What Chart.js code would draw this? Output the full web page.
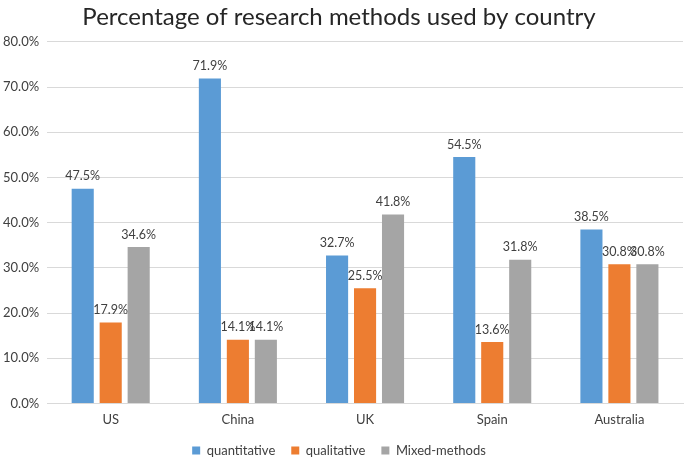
<!DOCTYPE html>
<html>
<head>
<meta charset="utf-8">
<script src="https://cdn.jsdelivr.net/npm/chart.js@4"></script>
<style>
  html, body { margin: 0; padding: 0; background: #fff; }
  #wrap { width: 685px; height: 458px; position: relative; }
</style>
</head>
<body>
<div id="wrap"><canvas id="chart"></canvas></div>
<script>
// --- DATA ---
const countries = ["US", "China", "UK", "Spain", "Australia"];
const quantitative = [47.5, 71.9, 32.7, 54.5, 38.5];
const qualitative = [17.9, 14.1, 25.5, 13.6, 30.8];
const mixedMethods = [34.6, 14.1, 41.8, 31.8, 30.8];
const yTicks = [0, 10, 20, 30, 40, 50, 60, 70, 80];

const fontFamily = "Lato, 'Open Sans', sans-serif";

// Draw value labels above each bar
const valueLabels = {
    id: 'valueLabels',
    afterDatasetsDraw(chart) {
        const ctx = chart.ctx;
        ctx.save();
        ctx.font = "12.5px " + fontFamily;
        ctx.fillStyle = "#404040";
        ctx.textAlign = "center";
        ctx.textBaseline = "bottom";
        chart.data.datasets.forEach((ds, i) => {
            chart.getDatasetMeta(i).data.forEach((bar, j) => {
                ctx.fillText(ds.data[j].toFixed(1) + "%", bar.x, bar.y - 6);
            });
        });
        ctx.restore();
    }
};

new Chart(document.getElementById('chart'), {
    type: 'bar',
    data: {
        labels: countries,
        datasets: [
            { label: 'quantitative', data: quantitative, backgroundColor: '#5B9BD5' },
            { label: 'qualitative', data: qualitative, backgroundColor: '#ED7D31' },
            { label: 'Mixed-methods', data: mixedMethods, backgroundColor: '#A5A5A5' }
        ]
    },
    options: {
        responsive: true,
        maintainAspectRatio: false,
        animation: false,
        categoryPercentage: 0.66,
        barPercentage: 0.79,
        layout: { padding: { left: -5, right: 2, top: 0, bottom: 0 } },
        plugins: {
            title: {
                display: true,
                text: 'Percentage of research methods used by country',
                color: '#262626',
                font: { family: fontFamily, size: 24, weight: 'normal' },
                padding: { top: 3, bottom: 10 }
            },
            legend: {
                position: 'bottom',
                maxHeight: 30,
                labels: {
                    color: '#404040',
                    font: { family: fontFamily, size: 13 },
                    boxWidth: 8, boxHeight: 8,
                    padding: 16
                }
            },
            tooltip: { enabled: false }
        },
        scales: {
            x: {
                grid: { display: false, drawTicks: false },
                border: { color: '#D9D9D9' },
                ticks: { color: '#404040', font: { family: fontFamily, size: 13 }, padding: 9 },
                afterFit: axis => { axis.height -= 9; }
            },
            y: {
                min: 0, max: 80,
                afterBuildTicks: axis => { axis.ticks = yTicks.map(v => ({ value: v })); },
                grid: { color: '#D9D9D9', drawTicks: false },
                border: { display: false },
                ticks: {
                    color: '#404040',
                    font: { family: fontFamily, size: 13 },
                    padding: 8,
                    callback: v => v.toFixed(1) + '%'
                }
            }
        }
    },
    plugins: [valueLabels]
});
</script>
</body>
</html>
